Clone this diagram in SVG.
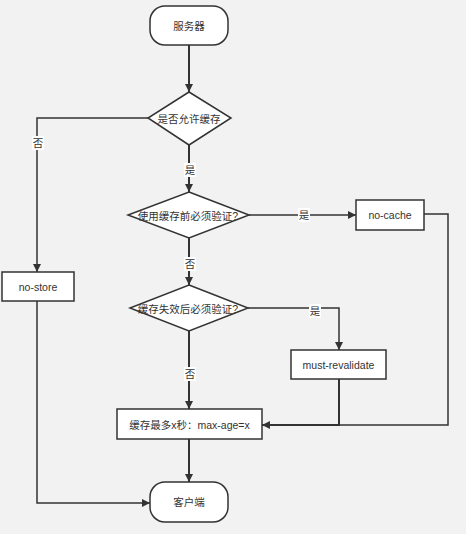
<svg xmlns="http://www.w3.org/2000/svg" width="466" height="534" viewBox="0 0 466 534">
<style>
.bg{fill:#f2f2f2}
.n{fill:#fff;stroke:#333;stroke-width:1.5}
.t{font-family:"Liberation Sans","Noto Sans CJK SC",sans-serif;font-size:10.5px;fill:#333;text-anchor:middle;dominant-baseline:central}
.l{fill:none;stroke:#333;stroke-width:1.5}
.lb{fill:#fff}
</style>
<defs>
<marker id="a" viewBox="0 0 10 10" refX="10" refY="5" markerWidth="8" markerHeight="8" markerUnits="userSpaceOnUse" orient="auto">
<path d="M0,0 L10,5 L0,10 Z" fill="#333"/>
</marker>
</defs>
<rect class="bg" width="466" height="534"/>
<g id="connectors">
<path class="l" d="M189,45 V92" marker-end="url(#a)" style="stroke-width:2"/>
<path class="l" d="M148,118 H37 V272" marker-end="url(#a)"/>
<path class="l" d="M189,145 V192" marker-end="url(#a)" style="stroke-width:2"/>
<path class="l" d="M249,215 H356" marker-end="url(#a)"/>
<path class="l" d="M189,238 V285" marker-end="url(#a)" style="stroke-width:2"/>
<path class="l" d="M248,308 H339 V350" marker-end="url(#a)"/>
<path class="l" d="M189,331 V409" marker-end="url(#a)" style="stroke-width:2"/>
<path class="l" d="M424,214 H448 V425 H262" marker-end="url(#a)"/>
<path class="l" d="M339,379 V425 H262" style="stroke-width:2"/>
<path class="l" d="M189,439 V482" marker-end="url(#a)" style="stroke-width:2"/>
<path class="l" d="M37,301 V503 H150" marker-end="url(#a)"/>
<rect class="lb" x="32" y="136" width="12" height="14"/>
<text class="t" x="38" y="143">否</text>
<rect class="lb" x="184" y="163" width="12" height="14"/>
<text class="t" x="190" y="170">是</text>
<rect class="lb" x="298" y="208" width="12" height="14"/>
<text class="t" x="304" y="215">是</text>
<rect class="lb" x="184" y="257" width="12" height="14"/>
<text class="t" x="190" y="264">否</text>
<rect class="lb" x="309" y="304" width="12" height="14"/>
<text class="t" x="315" y="311">是</text>
<rect class="lb" x="184" y="367" width="12" height="14"/>
<text class="t" x="190" y="374">否</text>
</g>
<g id="server">
<rect class="n" x="150" y="6" width="78" height="39" rx="15"/>
<text class="t" x="189" y="25.5">服务器</text>
</g>
<g id="allow-cache">
<path class="n" d="M189,92 L231,118 L189,145 L148,118 Z"/>
<text class="t" x="189" y="118.5">是否允许缓存</text>
</g>
<g id="no-store">
<rect class="n" x="2" y="272" width="72" height="29"/>
<text class="t" x="38" y="287">no-store</text>
</g>
<g id="validate-before">
<path class="n" d="M189,192 L249,215 L189,238 L128,215 Z"/>
<text class="t" x="188" y="215.5">使用缓存前必须验证?</text>
</g>
<g id="no-cache">
<rect class="n" x="356" y="200" width="68" height="30"/>
<text class="t" x="390" y="215">no-cache</text>
</g>
<g id="validate-after">
<path class="n" d="M189,285 L248,308 L189,331 L130,308 Z"/>
<text class="t" x="188" y="308.5">缓存失效后必须验证?</text>
</g>
<g id="must-revalidate">
<rect class="n" x="291" y="350" width="95" height="29"/>
<text class="t" x="338.5" y="365">must-revalidate</text>
</g>
<g id="max-age">
<rect class="n" x="117" y="409" width="145" height="30"/>
<text class="t" x="189.5" y="424.5">缓存最多x秒：max-age=x</text>
</g>
<g id="client">
<rect class="n" x="150" y="482" width="78" height="40" rx="15"/>
<text class="t" x="189" y="502">客户端</text>
</g>
</svg>
